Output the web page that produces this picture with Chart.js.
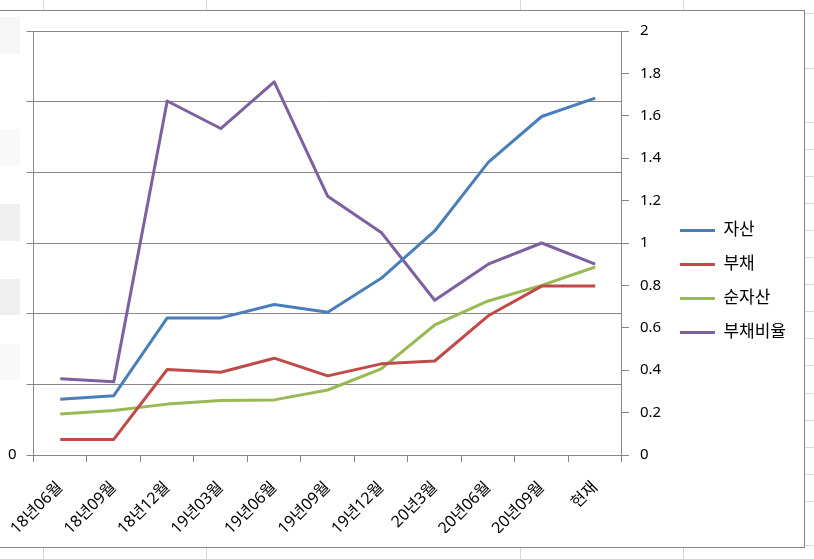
<!DOCTYPE html>
<html>
<head>
<meta charset="utf-8">
<script src="https://cdn.jsdelivr.net/npm/chart.js@4"></script>
<style>
  html, body { margin: 0; padding: 0; background: #fff; overflow: hidden; }
  body { width: 814px; height: 559px; position: relative; }
  .cell-v { position: absolute; width: 1px; background: #dadada; }
  .cell-h { position: absolute; height: 1px; background: #dadada; }
  #frame {
    position: absolute; left: -5px; top: 10px; width: 808px; height: 536px;
    border: 1px solid #868686; background: #fff;
  }
  .mask { position: absolute; left: 0; width: 20px; }
</style>
</head>
<body>
<div id="frame"><canvas id="chart"></canvas></div>
<div class="mask" style="top:17px;height:37px;background:#f6f6f6"></div>
<div class="mask" style="top:129px;height:37px;background:#f9f9f9"></div>
<div class="mask" style="top:204px;height:37px;background:#f0f0f0"></div>
<div class="mask" style="top:279px;height:36px;background:#efefef"></div>
<div class="mask" style="top:344px;height:36px;background:#f9f9f9"></div>
<script>
// spreadsheet cell lines around the chart object
const sheetCols = [43, 206, 520, 683];
const sheetRows = [13, 68, 122, 149, 176, 203, 230, 257, 284, 311, 338, 365, 393, 420, 447, 474, 501, 545];
sheetCols.forEach(x => {
  [[0, 10], [548, 11]].forEach(([top, h]) => {
    const d = document.createElement('div');
    d.className = 'cell-v';
    d.style.left = x + 'px'; d.style.top = top + 'px'; d.style.height = h + 'px';
    document.body.insertBefore(d, document.body.firstChild);
  });
});
sheetRows.forEach(y => {
  const d = document.createElement('div');
  d.className = 'cell-h';
  d.style.left = '805px'; d.style.top = y + 'px'; d.style.width = '9px';
  document.body.insertBefore(d, document.body.firstChild);
});

const labels    = ['18년06월', '18년09월', '18년12월', '19년03월', '19년06월', '19년09월', '19년12월', '20년3월', '20년06월', '20년09월', '현재'];
const assets    = [7.9, 8.4, 19.4, 19.4, 21.3, 20.2, 25.0, 31.7, 41.4, 47.9, 50.5];
const debt      = [2.2, 2.2, 12.1, 11.7, 13.7, 11.2, 12.9, 13.3, 19.7, 23.9, 23.9];
const netAssets = [5.8, 6.3, 7.2, 7.7, 7.8, 9.2, 12.2, 18.4, 21.8, 24.0, 26.6];
const debtRatio = [0.36, 0.345, 1.67, 1.54, 1.76, 1.22, 1.05, 0.73, 0.90, 1.0, 0.90];

const axisColor = '#868686';
Chart.defaults.font.family = "'Noto Sans', 'Noto Sans CJK KR', sans-serif";
Chart.defaults.font.size = 15;
Chart.defaults.color = '#000';

function line(label, data, color, axis) {
  return {
    label, data, yAxisID: axis,
    borderColor: color, backgroundColor: color,
    borderWidth: 3, pointRadius: 0, tension: 0,
    borderJoinStyle: 'round'
  };
}

new Chart(document.getElementById('chart'), {
  type: 'line',
  data: {
    labels,
    datasets: [
      line('자산', assets, '#4a7ebb', 'y'),
      line('부채', debt, '#be4b48', 'y'),
      line('순자산', netAssets, '#98b954', 'y'),
      line('부채비율', debtRatio, '#7d60a0', 'y1')
    ]
  },
  options: {
    responsive: true,
    maintainAspectRatio: false,
    animation: false,
    layout: { autoPadding: false, padding: { top: 19, right: 8, bottom: 14, left: 0 } },
    plugins: {
      tooltip: { enabled: false },
      legend: {
        position: 'right',
        labels: {
          boxWidth: 35,
          boxHeight: 3,
          padding: 17,
          font: { size: 17 },
          generateLabels: chart =>
            Chart.defaults.plugins.legend.labels.generateLabels(chart).map(l => ({ ...l, lineWidth: 0 }))
        }
      }
    },
    scales: {
      x: {
        offset: true,
        grid: { offset: true, drawOnChartArea: false, color: axisColor, tickLength: 7 },
        border: { color: axisColor },
        ticks: { minRotation: 45, maxRotation: 45, autoSkip: false, padding: 16, font: { size: 16 } },
        afterFit: s => { s.height = 78; }
      },
      y: {
        position: 'left',
        min: 0, max: 60,
        grid: { color: axisColor, tickLength: 7 },
        border: { color: axisColor },
        ticks: { stepSize: 10, padding: 10, callback: v => v === 0 ? '0' : '' },
        afterFit: s => { s.width = 34; }
      },
      y1: {
        position: 'right',
        min: 0, max: 2,
        grid: { drawOnChartArea: false, color: axisColor, tickLength: 7 },
        border: { color: axisColor },
        ticks: { stepSize: 0.2, padding: 11, callback: v => String(Math.round(v * 10) / 10) },
        afterFit: s => { s.width = 41; }
      }
    }
  }
});
</script>
</body>
</html>
